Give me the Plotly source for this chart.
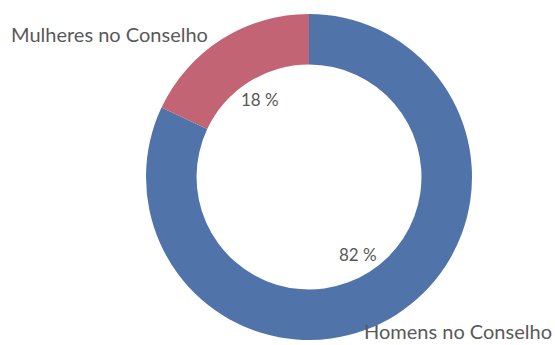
import math
import plotly.graph_objects as go

categories = ["Homens no Conselho", "Mulheres no Conselho"]
values = [82, 18]
colors = ["#5074A9", "#C36475"]

W, H = 555, 345
cx, cy, R = 309, 177, 163
hole = 0.69
FONT = "Lato"

fig = go.Figure(go.Pie(
    labels=categories, values=values, sort=False, direction="clockwise",
    rotation=0, hole=hole, textinfo="none", hoverinfo="label+percent",
    marker=dict(colors=colors, line=dict(color="white", width=0)),
    domain=dict(x=[(cx - R) / W, (cx + R) / W], y=[(H - cy - R) / H, (H - cy + R) / H]),
    showlegend=False,
))

total = sum(values)
annotations = []
start = 0.0
r_lab = 0.56 * R
for cat, v in zip(categories, values):
    mid = (start + v / 2) / total * 2 * math.pi
    start += v
    px = cx + r_lab * math.sin(mid)
    py = cy - r_lab * math.cos(mid)
    annotations.append(dict(
        x=px / W, y=1 - py / H, xref="paper", yref="paper",
        xanchor="center", yanchor="middle",
        text=f"{round(v / total * 100)} %", showarrow=False,
        font=dict(family=FONT, size=17, color="#595959"),
    ))

annotations.append(dict(x=9 / W, y=1 - 34 / H, xref="paper", yref="paper",
                        text=categories[1], showarrow=False, xanchor="left", yanchor="middle",
                        font=dict(family=FONT, size=20, color="#595959")))
annotations.append(dict(x=554 / W, y=1 - 331 / H, xref="paper", yref="paper",
                        text=categories[0], showarrow=False, xanchor="right", yanchor="middle",
                        font=dict(family=FONT, size=20, color="#595959")))

fig.update_layout(width=W, height=H, margin=dict(l=0, r=0, t=0, b=0),
                  paper_bgcolor="white", plot_bgcolor="white",
                  annotations=annotations)
fig.write_html("out.html", config={"displayModeBar": False},
               post_script="document.body.style.margin='0';")
